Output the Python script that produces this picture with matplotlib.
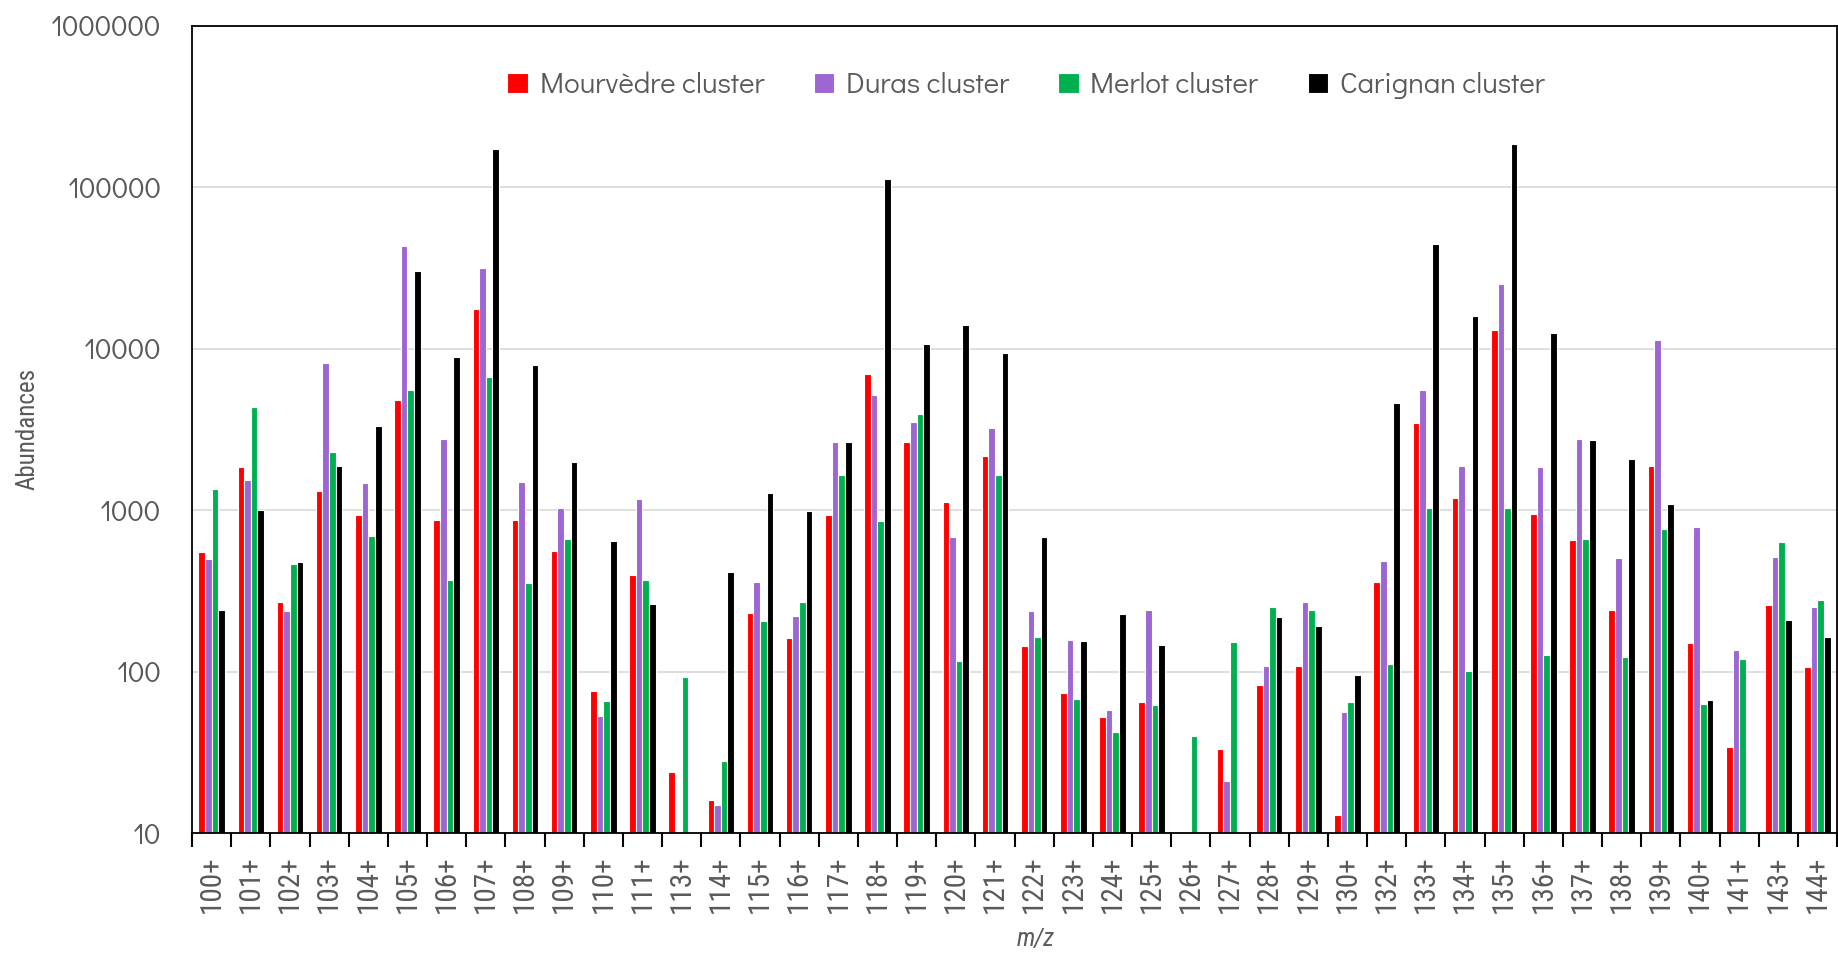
# Abundances of m/z fragments per cultivar cluster, log-scale grouped bars.
import numpy as np
from matplotlib import pyplot as plt

# %% Data.
l_mz = ['100+', '101+', '102+', '103+', '104+', '105+', '106+', '107+', '108+', '109+',
        '110+', '111+', '113+', '114+', '115+', '116+', '117+', '118+', '119+', '120+',
        '121+', '122+', '123+', '124+', '125+', '126+', '127+', '128+', '129+', '130+',
        '132+', '133+', '134+', '135+', '136+', '137+', '138+', '139+', '140+', '141+',
        '143+', '144+']

nan = np.nan
mourvedre = [553, 1840, 269, 1310, 933, 4830, 871, 17500, 871, 558,
             76, 394, 24, 16, 230, 161, 933, 6970, 2650, 1120,
             2170, 144, 74, 52, 65, nan, 33, 83, 109, 13,
             361, 3470, 1190, 13000, 949, 653, 242, 1890, 151, 34,
             257, 107]
duras = [499, 1530, 236, 8150, 1470, 43400, 2770, 31700, 1490, 1030,
         53, 1170, nan, 15, 361, 220, 2650, 5190, 3530, 682,
         3240, 236, 157, 58, 242, nan, 21, 109, 269, 56,
         485, 5560, 1870, 25300, 1840, 2770, 507, 11250, 784, 137,
         516, 250]
merlot = [1345, 4360, 465, 2290, 694, 5560, 371, 6670, 352, 664,
          66, 367, 93, 28, 205, 269, 1640, 855, 3960, 117,
          1640, 164, 68, 42, 62, 40, 153, 250, 242, 65,
          112, 1030, 101, 1030, 127, 664, 123, 764, 63, 119,
          636, 276]
carignan = [242, 1000, 477, 1870, 3300, 30300, 8890, 173000, 7940, 2000,
            647, 264, nan, 411, 1280, 982, 2630, 113000, 10700, 14100,
            9370, 682, 154, 226, 146, nan, nan, 218, 191, 95,
            4630, 44500, 15900, 185500, 12500, 2700, 2060, 1090, 67, nan,
            210, 164]

l_series = [('Mourvèdre cluster', mourvedre, '#FF0000'),
            ('Duras cluster', duras, '#9E66D2'),
            ('Merlot cluster', merlot, '#00B050'),
            ('Carignan cluster', carignan, '#000000')]

# %% Chart.
grey = '#595959'
narrow = ['Roboto Condensed', 'PT Sans Narrow', 'DejaVu Sans']
wide = ['Didact Gothic', 'DejaVu Sans']

fig = plt.figure(figsize=(18.38, 9.55), dpi=100)
ax = fig.add_axes([0.1045, 0.1277, 0.8950, 0.8453])
ax.set_axisbelow(True)

x = np.arange(len(l_mz))
bar_w = 0.17
for i, (name, vals, col) in enumerate(l_series):
    off = (i - 1.5) * bar_w
    ax.bar(x + off, vals, width=bar_w, color=col, edgecolor='white',
           linewidth=0.8, label=name, zorder=2)

# Axis:
ax.set_yscale('log')
ax.set_ylim(10, 1000000)
ax.set_xlim(-0.5, len(l_mz) - 0.5)
yt = [10, 100, 1000, 10000, 100000, 1000000]
ax.set_yticks(yt)
ax.set_yticklabels([str(v) for v in yt], fontsize=21, color=grey, family=wide)
ax.yaxis.set_minor_locator(plt.NullLocator())
ax.tick_params(axis='y', length=0, pad=22)
ax.grid(True, axis='y', color='#D9D9D9', linewidth=1.2, zorder=0)

# Category labels centred, tick marks between categories:
ax.set_xticks(x)
ax.set_xticklabels(l_mz, rotation=90, fontsize=21, color=grey, family=narrow)
ax.tick_params(axis='x', which='major', length=0, pad=16)
ax.set_xticks(np.arange(len(l_mz) + 1) - 0.5, minor=True)
ax.tick_params(axis='x', which='minor', length=10, width=1.5, direction='out')

for sp in ax.spines.values():
    sp.set_color('#000000')
    sp.set_linewidth(1.3)
    sp.set_zorder(3)

# Titles:
ax.set_ylabel('Abundances', fontsize=18, color=grey, family=narrow)
ax.yaxis.set_label_coords(-0.093, 0.5)
ax.set_xlabel('m/z', fontsize=18, color=grey, family=narrow, style='italic')
ax.xaxis.set_label_coords(0.513, -0.117)

leg = ax.legend(loc='upper center', bbox_to_anchor=(0.507, 0.975), ncol=4,
                frameon=False, prop={'family': wide, 'size': 21},
                handlelength=0.7, handleheight=0.7,
                handletextpad=0.4, columnspacing=1.7)
for t in leg.get_texts():
    t.set_color(grey)

plt.savefig('out.png', dpi=100)
